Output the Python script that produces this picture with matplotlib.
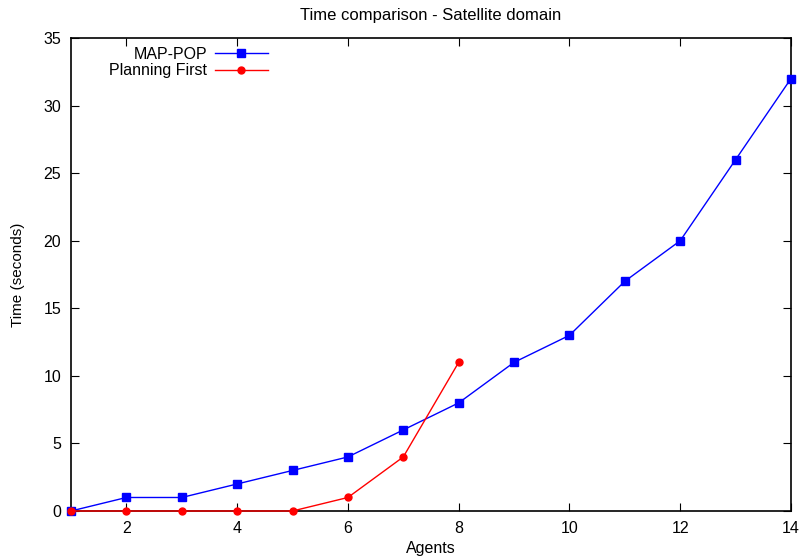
import matplotlib
matplotlib.use("Agg")
import matplotlib.pyplot as plt

plt.rcParams['font.family'] = ['Liberation Sans', 'DejaVu Sans']

agents = [1, 2, 3, 4, 5, 6, 7, 8, 9, 10, 11, 12, 13, 14]
map_pop = [0, 1, 1, 2, 3, 4, 6, 8, 11, 13, 17, 20, 26, 32]
pf_agents = [1, 2, 3, 4, 5, 6, 7, 8]
planning_first = [0, 0, 0, 0, 0, 1, 4, 11]

fig = plt.figure(figsize=(8.03, 5.6), dpi=100)
ax = fig.add_axes([0.0884, 0.0875, 0.8966, 0.8445])

ax.plot(agents, map_pop, color="blue", linewidth=1, marker="s", markersize=6,
        label="MAP-POP", clip_on=False, zorder=3)
ax.plot(pf_agents, planning_first, color="red", linewidth=1, marker="o", markersize=5,
        label="Planning First", clip_on=False, zorder=4)

ax.set_xlim(1, 14)
ax.set_ylim(0, 35)
ax.set_xticks([2, 4, 6, 8, 10, 12, 14])
ax.set_yticks([0, 5, 10, 15, 20, 25, 30, 35])
ax.tick_params(direction="in", top=True, right=True, labelsize=11.5, length=6, pad=7)
for s in ax.spines.values():
    s.set_linewidth(1.2)

ax.set_title("Time comparison - Satellite domain", fontsize=12, pad=13)
ax.set_xlabel("Agents", fontsize=11.5, labelpad=4)
ax.set_ylabel("Time (seconds)", fontsize=11, labelpad=13)

ax.legend(loc="upper right", bbox_to_anchor=(0.282, 0.995), frameon=False, markerfirst=False,
          fontsize=11.5, handlelength=3.3, handletextpad=0.5, labelspacing=0.1,
          borderaxespad=0.0, borderpad=0.4)

fig.savefig("out.png", dpi=100)
